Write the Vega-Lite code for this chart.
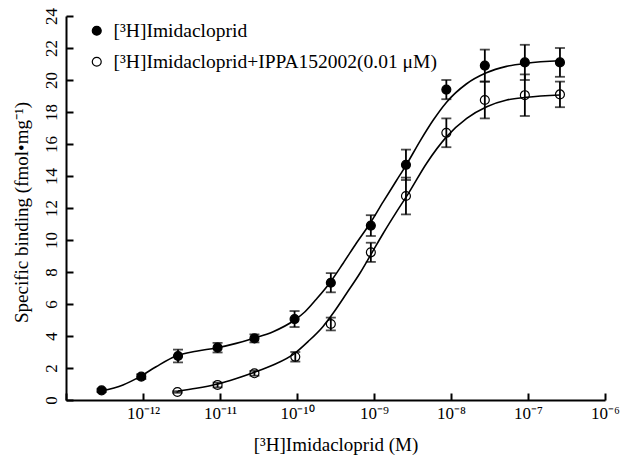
{
  "$schema": "https://vega.github.io/schema/vega-lite/v6.json",
  "width": 539,
  "height": 384,
  "autosize": "none",
  "padding": {"left": 66, "top": 16, "right": 17, "bottom": 55},
  "background": "white",
  "config": {
    "view": {"stroke": null},
    "font": "Liberation Serif",
    "axis": {
      "grid": false,
      "domainColor": "black",
      "domainWidth": 2,
      "tickColor": "black",
      "tickWidth": 2,
      "tickSize": -7,
      "labelFont": "Liberation Serif",
      "labelColor": "black",
      "labelFontSize": 17,
      "titleFont": "Liberation Serif",
      "titleColor": "black",
      "titleFontSize": 19,
      "titleFontWeight": "normal"
    },
    "legend": {
      "labelFont": "Liberation Serif",
      "labelFontSize": 19.5,
      "labelColor": "black",
      "labelLimit": 0
    }
  },
  "datasets": {
    "points": [
      {"s": "A", "x": 2.9e-13, "y": 0.6, "err": 0.1},
      {"s": "A", "x": 9.5e-13, "y": 1.46, "err": 0.15},
      {"s": "A", "x": 2.85e-12, "y": 2.75, "err": 0.4},
      {"s": "A", "x": 9.3e-12, "y": 3.27, "err": 0.3},
      {"s": "A", "x": 2.8e-11, "y": 3.85, "err": 0.25},
      {"s": "A", "x": 9.3e-11, "y": 5.06, "err": 0.5},
      {"s": "A", "x": 2.75e-10, "y": 7.33, "err": 0.6},
      {"s": "A", "x": 9.1e-10, "y": 10.9, "err": 0.65},
      {"s": "A", "x": 2.6e-9, "y": 14.7, "err": 0.95},
      {"s": "A", "x": 8.7e-9, "y": 19.4, "err": 0.6},
      {"s": "A", "x": 2.75e-8, "y": 20.9, "err": 1.0},
      {"s": "A", "x": 9.1e-8, "y": 21.1, "err": 1.1},
      {"s": "A", "x": 2.6e-7, "y": 21.1, "err": 0.9},
      {"s": "B", "x": 2.8e-12, "y": 0.5, "err": 0.05},
      {"s": "B", "x": 9.3e-12, "y": 0.94, "err": 0.15},
      {"s": "B", "x": 2.8e-11, "y": 1.67, "err": 0.15},
      {"s": "B", "x": 9.5e-11, "y": 2.7, "err": 0.3},
      {"s": "B", "x": 2.75e-10, "y": 4.75, "err": 0.4},
      {"s": "B", "x": 9.1e-10, "y": 9.23, "err": 0.6},
      {"s": "B", "x": 2.6e-9, "y": 12.75, "err": 1.15},
      {"s": "B", "x": 8.7e-9, "y": 16.7, "err": 0.9},
      {"s": "B", "x": 2.75e-8, "y": 18.75, "err": 1.15},
      {"s": "B", "x": 9.1e-8, "y": 19.05, "err": 1.3},
      {"s": "B", "x": 2.6e-7, "y": 19.1, "err": 0.8}
    ],
    "curve": [
      {"s": "A", "x": 2.88e-13, "y": 0.56},
      {"s": "A", "x": 5.5e-13, "y": 0.94},
      {"s": "A", "x": 9.12e-13, "y": 1.46},
      {"s": "A", "x": 1.48e-12, "y": 2.08},
      {"s": "A", "x": 2.69e-12, "y": 2.75},
      {"s": "A", "x": 4.9e-12, "y": 3.05},
      {"s": "A", "x": 8.91e-12, "y": 3.25},
      {"s": "A", "x": 1.62e-11, "y": 3.54},
      {"s": "A", "x": 2.69e-11, "y": 3.85},
      {"s": "A", "x": 4.9e-11, "y": 4.27},
      {"s": "A", "x": 9.33e-11, "y": 5.0},
      {"s": "A", "x": 1.26e-10, "y": 5.5},
      {"s": "A", "x": 1.78e-10, "y": 6.3},
      {"s": "A", "x": 2.69e-10, "y": 7.35},
      {"s": "A", "x": 3.98e-10, "y": 8.55},
      {"s": "A", "x": 5.89e-10, "y": 9.8},
      {"s": "A", "x": 8.91e-10, "y": 11.05},
      {"s": "A", "x": 1.32e-9, "y": 12.4},
      {"s": "A", "x": 1.95e-9, "y": 13.7},
      {"s": "A", "x": 2.63e-9, "y": 14.7},
      {"s": "A", "x": 3.98e-9, "y": 16.2},
      {"s": "A", "x": 5.89e-9, "y": 17.5},
      {"s": "A", "x": 8.71e-9, "y": 18.6},
      {"s": "A", "x": 1.58e-8, "y": 19.75},
      {"s": "A", "x": 2.88e-8, "y": 20.45},
      {"s": "A", "x": 5.25e-8, "y": 20.85},
      {"s": "A", "x": 9.55e-8, "y": 21.05},
      {"s": "A", "x": 2.63e-7, "y": 21.2},
      {"s": "B", "x": 2.84e-12, "y": 0.56},
      {"s": "B", "x": 4.93e-12, "y": 0.73},
      {"s": "B", "x": 8.97e-12, "y": 0.98},
      {"s": "B", "x": 1.63e-11, "y": 1.35},
      {"s": "B", "x": 2.69e-11, "y": 1.71},
      {"s": "B", "x": 4.89e-11, "y": 2.19},
      {"s": "B", "x": 9.35e-11, "y": 2.92},
      {"s": "B", "x": 1.39e-10, "y": 3.65},
      {"s": "B", "x": 2.18e-10, "y": 4.6},
      {"s": "B", "x": 2.94e-10, "y": 5.42},
      {"s": "B", "x": 4.41e-10, "y": 6.67},
      {"s": "B", "x": 6.56e-10, "y": 7.92},
      {"s": "B", "x": 9.31e-10, "y": 9.17},
      {"s": "B", "x": 1.32e-9, "y": 10.42},
      {"s": "B", "x": 1.97e-9, "y": 11.77},
      {"s": "B", "x": 2.79e-9, "y": 12.9},
      {"s": "B", "x": 4.83e-9, "y": 14.8},
      {"s": "B", "x": 8.79e-9, "y": 16.46},
      {"s": "B", "x": 1.6e-8, "y": 17.6},
      {"s": "B", "x": 2.91e-8, "y": 18.33},
      {"s": "B", "x": 5.3e-8, "y": 18.75},
      {"s": "B", "x": 9.64e-8, "y": 18.92},
      {"s": "B", "x": 2.61e-7, "y": 19.06}
    ]
  },
  "encoding": {
    "x": {
      "field": "x",
      "type": "quantitative",
      "scale": {"type": "log", "domain": [1e-13, 1e-6], "nice": false},
      "axis": {
        "title": "[³H]Imidacloprid (M)",
        "values": [1e-13, 1e-12, 1e-11, 1e-10, 1e-9, 1e-8, 1e-7, 1e-6],
        "labelExpr": "['', '10⁻¹²', '10⁻¹¹', '10⁻¹⁰', '10⁻⁹', '10⁻⁸', '10⁻⁷', '10⁻⁶'][round(log(datum.value)/LN10) + 13]",
        "labelPadding": 12,
        "labelFlush": false,
        "titleY": 44,
        "titleBaseline": "middle"
      }
    },
    "y": {
      "field": "y",
      "type": "quantitative",
      "scale": {"domain": [0, 24], "nice": false},
      "axis": {
        "title": "Specific binding (fmol•mg⁻¹)",
        "values": [0, 2, 4, 6, 8, 10, 12, 14, 16, 18, 20, 22, 24],
        "labelAngle": -90,
        "labelAlign": "center",
        "labelBaseline": "bottom",
        "labelPadding": 13,
        "titleX": -45,
        "titleY": 196,
        "titleAngle": -90,
        "titleBaseline": "middle",
        "titleAlign": "center"
      }
    }
  },
  "layer": [
    {
      "data": {"name": "curve"},
      "mark": {"type": "line", "color": "black", "strokeWidth": 1.6, "interpolate": "monotone"},
      "encoding": {"detail": {"field": "s"}}
    },
    {
      "data": {"name": "points"},
      "mark": {"type": "errorbar", "color": "black", "thickness": 1.8, "ticks": {"size": 10, "thickness": 1.8, "color": "black"}},
      "encoding": {
        "yError": {"field": "err"},
        "detail": {"field": "s"}
      }
    },
    {
      "data": {"name": "points"},
      "mark": {"type": "point", "shape": "circle", "size": 80, "stroke": "black", "strokeWidth": 1.2, "opacity": 1},
      "encoding": {
        "fill": {
          "field": "s",
          "type": "nominal",
          "scale": {"domain": ["A", "B"], "range": ["black", "transparent"]},
          "legend": {
            "title": null,
            "orient": "none",
            "legendX": 21,
            "legendY": 5,
            "labelExpr": "datum.value == 'A' ? '[³H]Imidacloprid' : '[³H]Imidacloprid+IPPA152002(0.01 μM)'",
            "labelLimit": 0,
            "symbolType": "circle",
            "symbolSize": 80,
            "symbolStrokeColor": "black",
            "symbolStrokeWidth": 1.2,
            "symbolOpacity": 1,
            "labelOffset": 7,
            "rowPadding": 10
          }
        }
      }
    }
  ]
}
